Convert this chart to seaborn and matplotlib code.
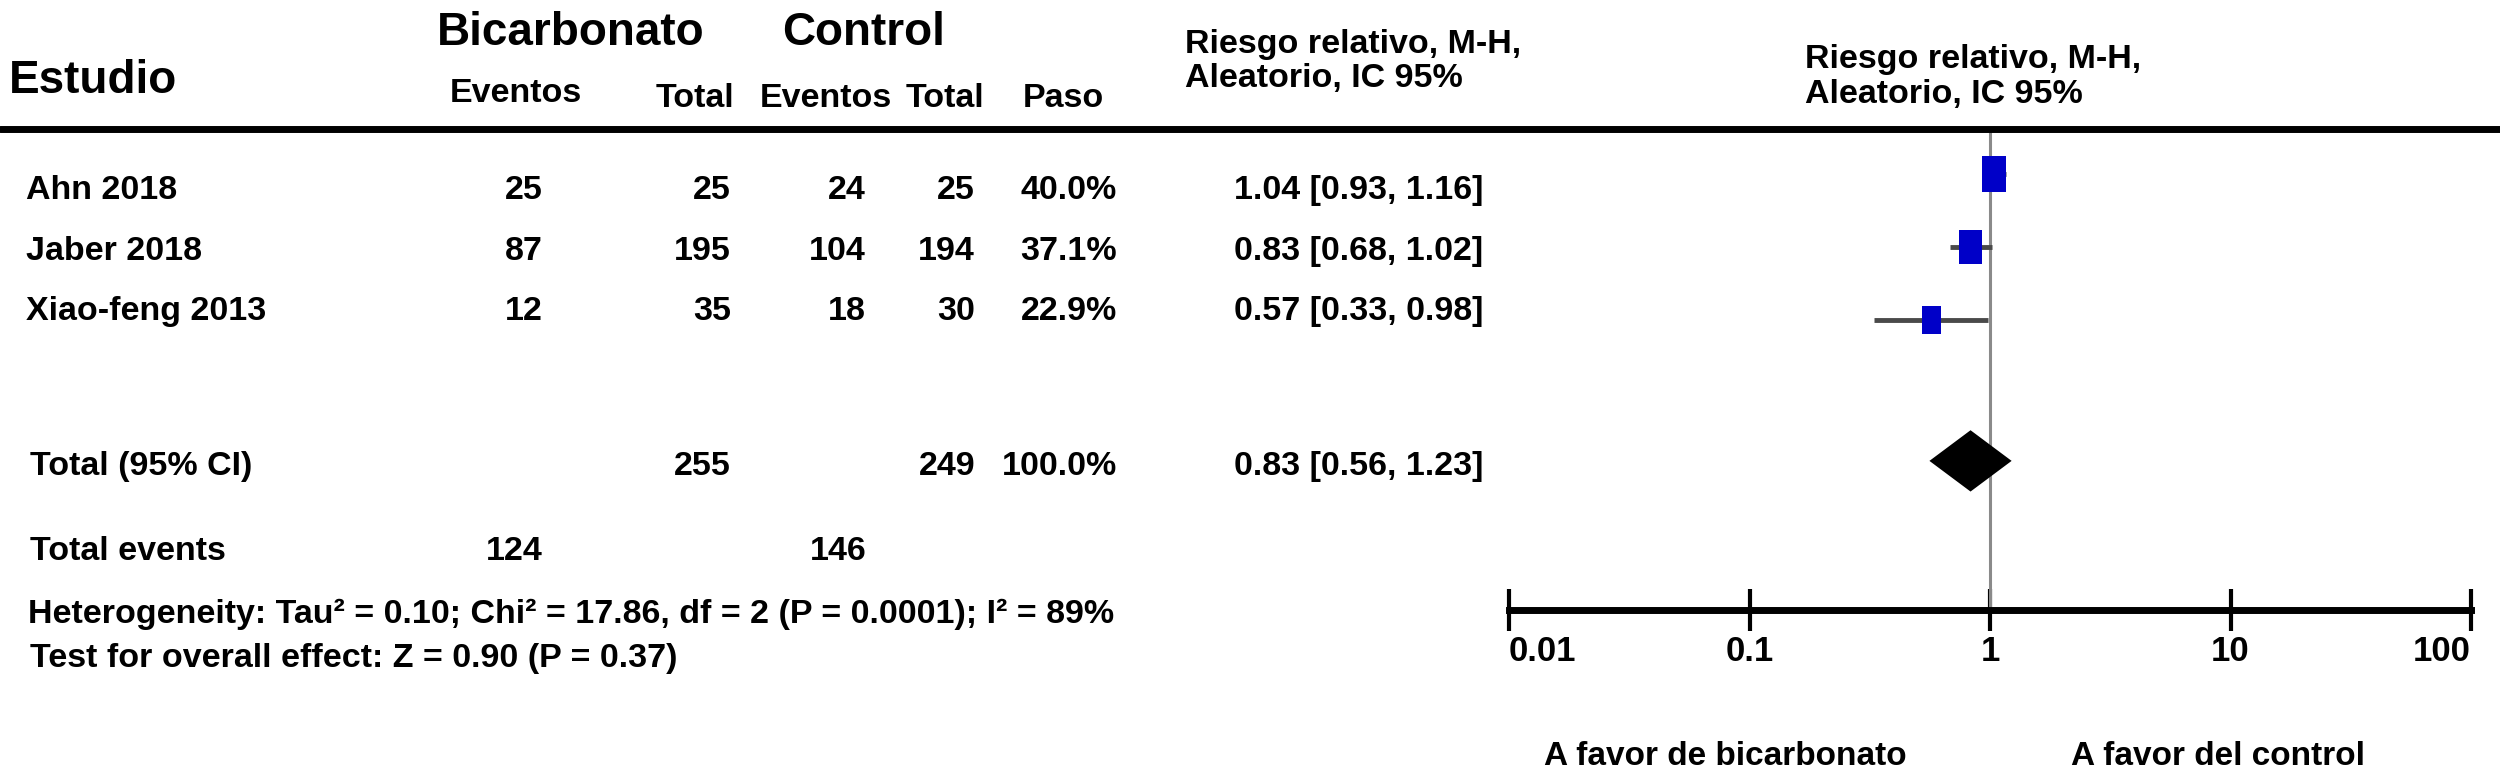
'''
forest plot del riesgo relativo bicarbonato vs control...
'''

import numpy as np
import matplotlib
matplotlib.use('Agg')
import matplotlib.pyplot as plt
from matplotlib.lines import Line2D
from matplotlib.markers import MarkerStyle
from matplotlib.ticker import NullLocator
import seaborn as sns

#datos de los estudios...
estudios = ['Ahn 2018', 'Jaber 2018', 'Xiao-feng 2013']
eventosBicarb = [25, 87, 12]
totalBicarb = [25, 195, 35]
eventosControl = [24, 104, 18]
totalControl = [25, 194, 30]
peso = [40.0, 37.1, 22.9]
riesgo = [1.04, 0.83, 0.57]
icInf = [0.93, 0.68, 0.33]
icSup = [1.16, 1.02, 0.98]

#datos del total...
riesgoTotal = 0.83
icTotal = [0.56, 1.23]
nTotal = [255, 249]
pesoTotal = 100.0
eventosTotales = [124, 146]
heterogeneidad = 'Heterogeneity: Tau\u00b2 = 0.10; Chi\u00b2 = 17.86, df = 2 (P = 0.0001); I\u00b2 = 89%'
efectoGlobal = 'Test for overall effect: Z = 0.90 (P = 0.37)'

ticks = [0.01, 0.1, 1, 10, 100]
tickLabels = ['0.01', '0.1', '1', '10', '100']

W, H = 2500, 777
ROW0, ROWH = 174, 73
FONT = ['Liberation Sans', 'DejaVu Sans']

sns.set_theme(style='white')
plt.rcParams['font.family'] = FONT

fig = plt.figure(figsize=(W / 100, H / 100), dpi=100)
fig.patch.set_facecolor('white')

#funcion para poner texto en pixeles de la figura
def putText(x, y, s, size, ha='left'):
    fig.text(x / W, 1 - y / H, s, fontsize=size, ha=ha, va='baseline',
             family=FONT, fontweight='bold', color='black')

#encabezados
putText(9, 93, 'Estudio', 33)
putText(571, 45, 'Bicarbonato', 33, ha='center')
putText(864, 45, 'Control', 33, ha='center')
putText(516, 102, 'Eventos', 24.5, ha='center')
putText(734, 107, 'Total', 24.5, ha='right')
putText(826, 107, 'Eventos', 24.5, ha='center')
putText(945, 107, 'Total', 24.5, ha='center')
putText(1023, 107, 'Paso', 24.5)
putText(1185, 53, 'Riesgo relativo, M-H,', 24.5)
putText(1185, 87, 'Aleatorio, IC 95%', 24.5)
putText(1805, 68, 'Riesgo relativo, M-H,', 24.5)
putText(1805, 103, 'Aleatorio, IC 95%', 24.5)

yLinea = 129
fig.add_artist(Line2D([0, 1], [1 - yLinea / H] * 2, color='black', lw=5,
                      transform=fig.transFigure))

#filas de la tabla
filas = np.arange(len(estudios))
baseFilas = [199, 260, 320]
fs = 24.5
for i in filas:
    y = baseFilas[i]
    putText(26, y, estudios[i], fs)
    putText(543, y, str(eventosBicarb[i]), fs, ha='right')
    putText(731, y, str(totalBicarb[i]), fs, ha='right')
    putText(866, y, str(eventosControl[i]), fs, ha='right')
    putText(975, y, str(totalControl[i]), fs, ha='right')
    putText(1117, y, '%.1f%%' % peso[i], fs, ha='right')
    putText(1483, y, '%.2f [%.2f, %.2f]' % (riesgo[i], icInf[i], icSup[i]), fs, ha='right')

y = 475
putText(30, y, 'Total (95% CI)', fs)
putText(731, y, str(nTotal[0]), fs, ha='right')
putText(975, y, str(nTotal[1]), fs, ha='right')
putText(1117, y, '%.1f%%' % pesoTotal, fs, ha='right')
putText(1483, y, '%.2f [%.2f, %.2f]' % (riesgoTotal, icTotal[0], icTotal[1]), fs, ha='right')

putText(30, 560, 'Total events', fs)
putText(543, 560, str(eventosTotales[0]), fs, ha='right')
putText(867, 560, str(eventosTotales[1]), fs, ha='right')
putText(28, 623, heterogeneidad, fs)
putText(30, 667, efectoGlobal, fs)

#grafico del forest
x0, x1, yBot = 1509, 2471, 610
ax = fig.add_axes([x0 / W, 1 - yBot / H, (x1 - x0) / W, (yBot - yLinea) / H])
ax.patch.set_alpha(0)

filaTotal = 3.93
ax.axvline(1, color='#8a8a8a', lw=2.2, zorder=1)
ax.hlines(filas, icInf, icSup, color='#4a4a4a', lw=3.5, zorder=2)
rect = MarkerStyle([(-0.34, -0.5), (0.34, -0.5), (0.34, 0.5), (-0.34, 0.5)])
sns.scatterplot(x=riesgo, y=filas, s=np.array(peso) * 16.8, marker=rect,
                color='#0000c8', edgecolor='none', ax=ax, zorder=3, legend=False)
ax.fill([icTotal[0], riesgoTotal, icTotal[1], riesgoTotal],
        [filaTotal, filaTotal - 0.42, filaTotal, filaTotal + 0.42],
        color='black', lw=0, zorder=3)

ax.set_xscale('log')
ax.set_xlim(ticks[0], ticks[-1])
ax.set_ylim((yBot - ROW0) / ROWH, (yLinea - ROW0) / ROWH)
ax.set_xticks(ticks)
ax.set_xticklabels(tickLabels)
ax.xaxis.set_minor_locator(NullLocator())
ax.set_yticks([])
ax.set_xlabel('')
ax.set_ylabel('')
for side in ['top', 'left', 'right']:
    ax.spines[side].set_visible(False)
ax.spines['bottom'].set_linewidth(5)
ax.spines['bottom'].set_color('black')
ax.tick_params(axis='x', direction='inout', length=30, width=3, color='black',
               pad=3, labelsize=25, labelcolor='black', bottom=True)
labels = ax.get_xticklabels()
for lab in labels:
    lab.set_family(FONT)
    lab.set_fontweight('bold')
labels[0].set_ha('left')
labels[-1].set_ha('right')

putText(1725, 765, 'A favor de bicarbonato', 24, ha='center')
putText(2218, 765, 'A favor del control', 24, ha='center')

fig.savefig('out.png', dpi=100)
